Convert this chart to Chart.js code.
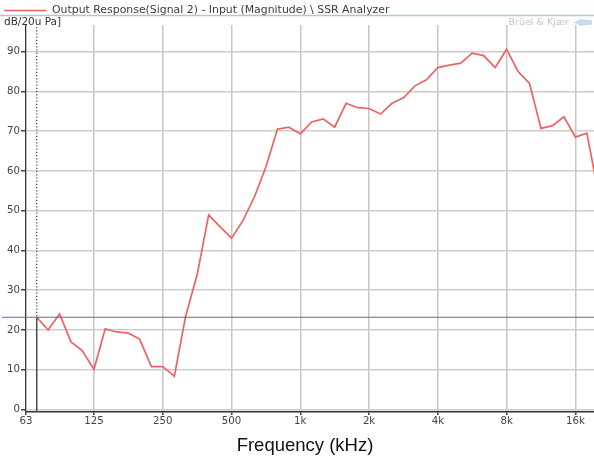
<!DOCTYPE html>
<html>
<head>
<meta charset="utf-8">
<script src="https://cdn.jsdelivr.net/npm/chart.js@4"></script>
<style>
  html, body { margin: 0; padding: 0; background: #ffffff; }
  #wrap { width: 594px; height: 461px; position: relative; }
</style>
</head>
<body>
<div id="wrap"><canvas id="c"></canvas></div>
<script>
// ---- data (1/6-octave bands) ----
const freqs = [70.2, 78.7, 88.4, 99.2, 111, 125, 140, 157, 177, 198, 223, 250, 281, 315, 354, 397, 445, 500,
  561, 630, 707, 794, 891, 1000, 1122, 1260, 1414, 1587, 1782, 2000, 2245, 2520, 2828, 3175, 3564, 4000,
  4490, 5040, 5657, 6350, 7127, 8000, 8980, 10079, 11314, 12699, 14254, 16000, 17959, 20159];
const levels = [23.2, 20.0, 24.0, 17.0, 14.8, 10.1, 20.3, 19.5, 19.2, 17.7, 10.8, 10.8, 8.4, 23.5, 34.0, 48.9, 46.0, 43.1,
  47.5, 53.5, 61.0, 70.5, 71.0, 69.3, 72.3, 73.1, 71.0, 77.0, 75.9, 75.7, 74.3, 77.0, 78.4, 81.4, 82.9, 86.0,
  86.6, 87.1, 89.6, 89.0, 86.0, 90.6, 85.0, 82.0, 70.7, 71.4, 73.6, 68.5, 69.5, 54.5];
const xTickValues = [63, 125, 250, 500, 1000, 2000, 4000, 8000, 16000];
const xTickLabels = ["63", "125", "250", "500", "1k", "2k", "4k", "8k", "16k"];
const yTickValues = [0, 10, 20, 30, 40, 50, 60, 70, 80, 90];
const refLevel = 23.2;
const cursorFreq = 70.2;
const legendText = "Output Response(Signal 2) - Input (Magnitude) \\ SSR Analyzer";
const yUnitText = "dB/20u Pa]";
const xTitleText = "Frequency (kHz)";
const brandText = "Brüel & Kjær";

const points = freqs.map((f, i) => ({ x: f, y: levels[i] }));

const decorPlugin = {
  id: 'decor',
  afterDatasetsDraw(chart) {
    const ctx = chart.ctx;
    const xs = chart.scales.x, ys = chart.scales.y;
    const area = chart.chartArea;
    const yRef = ys.getPixelForValue(refLevel);
    const xc = xs.getPixelForValue(cursorFreq);
    ctx.save();
    // cursor: dotted above reference, solid below
    ctx.strokeStyle = '#444';
    ctx.lineWidth = 1.2;
    ctx.setLineDash([1.2, 2]);
    ctx.beginPath();
    ctx.moveTo(xc, area.top + 2);
    ctx.lineTo(xc, yRef);
    ctx.stroke();
    ctx.setLineDash([]);
    ctx.lineWidth = 1.5;
    ctx.strokeStyle = '#4a4a4a';
    ctx.beginPath();
    ctx.moveTo(xc, yRef);
    ctx.lineTo(xc, area.bottom);
    ctx.stroke();
    // reference level line
    ctx.strokeStyle = '#7a5aa6';
    ctx.lineWidth = 1.2;
    ctx.beginPath();
    ctx.moveTo(2, yRef);
    ctx.lineTo(area.right, yRef);
    ctx.stroke();
    ctx.restore();
  },
  afterDraw(chart) {
    const ctx = chart.ctx;
    const area = chart.chartArea;
    ctx.save();
    // legend
    ctx.strokeStyle = '#ee6262';
    ctx.lineWidth = 1.6;
    ctx.beginPath();
    ctx.moveTo(4, 10.5);
    ctx.lineTo(46, 10.5);
    ctx.stroke();
    ctx.fillStyle = '#3c3c3c';
    ctx.font = '10.9px "DejaVu Sans"';
    ctx.textBaseline = 'middle';
    ctx.textAlign = 'left';
    ctx.fillText(legendText, 52, 10);
    // blue separator
    ctx.strokeStyle = '#a9c6e6';
    ctx.lineWidth = 1.5;
    ctx.beginPath();
    ctx.moveTo(0, 15.5);
    ctx.lineTo(594, 15.5);
    ctx.stroke();
    // unit label
    ctx.fillStyle = '#333';
    ctx.font = '10.5px "DejaVu Sans"';
    ctx.fillText(yUnitText, 4, 22.5);
    // brand watermark
    ctx.fillStyle = '#c6c6c6';
    ctx.font = '9.5px "DejaVu Sans"';
    ctx.textAlign = 'right';
    ctx.fillText(brandText, 569, 22.5);
    ctx.fillStyle = '#c4dcf2';
    ctx.beginPath();
    ctx.moveTo(574, 22.5);
    ctx.lineTo(580, 19);
    ctx.lineTo(592, 20.5);
    ctx.lineTo(592, 24.5);
    ctx.lineTo(580, 26);
    ctx.closePath();
    ctx.fill();
    // x axis title
    ctx.fillStyle = '#111';
    ctx.font = '18.5px "Liberation Sans"';
    ctx.textAlign = 'center';
    ctx.fillText(xTitleText, (area.left + area.right) / 2 - 5, 446);
    ctx.restore();
  }
};

new Chart(document.getElementById('c'), {
  type: 'line',
  data: {
    datasets: [{
      data: points,
      borderColor: '#ee6262',
      borderWidth: 1.7,
      pointRadius: 0,
      tension: 0,
      fill: false
    }]
  },
  options: {
    responsive: true,
    maintainAspectRatio: false,
    animation: false,
    devicePixelRatio: 1,
    layout: { padding: { top: 25, right: 0, bottom: 0, left: 0 } },
    plugins: { legend: { display: false }, tooltip: { enabled: false } },
    scales: {
      x: {
        type: 'logarithmic',
        min: 63,
        max: 19300,
        afterBuildTicks: (s) => { s.ticks = xTickValues.map(v => ({ value: v })); },
        afterFit: (s) => { s.height = 49; },
        ticks: {
          autoSkip: false,
          maxRotation: 0,
          padding: 0,
          color: '#444',
          font: { family: 'DejaVu Sans', size: 10.2 },
          callback: (v) => { const i = xTickValues.indexOf(v); return i >= 0 ? xTickLabels[i] : ''; }
        },
        grid: { color: '#c6c6c6', lineWidth: 1.5, tickLength: 3, tickColor: '#444' },
        border: { color: '#333', width: 1.5 }
      },
      y: {
        type: 'linear',
        min: -0.63,
        max: 96.7,
        afterBuildTicks: (s) => { s.ticks = yTickValues.map(v => ({ value: v })); },
        afterFit: (s) => { s.width = 26; },
        ticks: {
          padding: 1,
          color: '#444',
          font: { family: 'DejaVu Sans', size: 10.2 }
        },
        grid: { color: '#cdcdcd', lineWidth: 1.5, tickLength: 5, tickColor: '#444' },
        border: { color: '#333', width: 1.2 }
      }
    }
  },
  plugins: [decorPlugin]
});
</script>
</body>
</html>
